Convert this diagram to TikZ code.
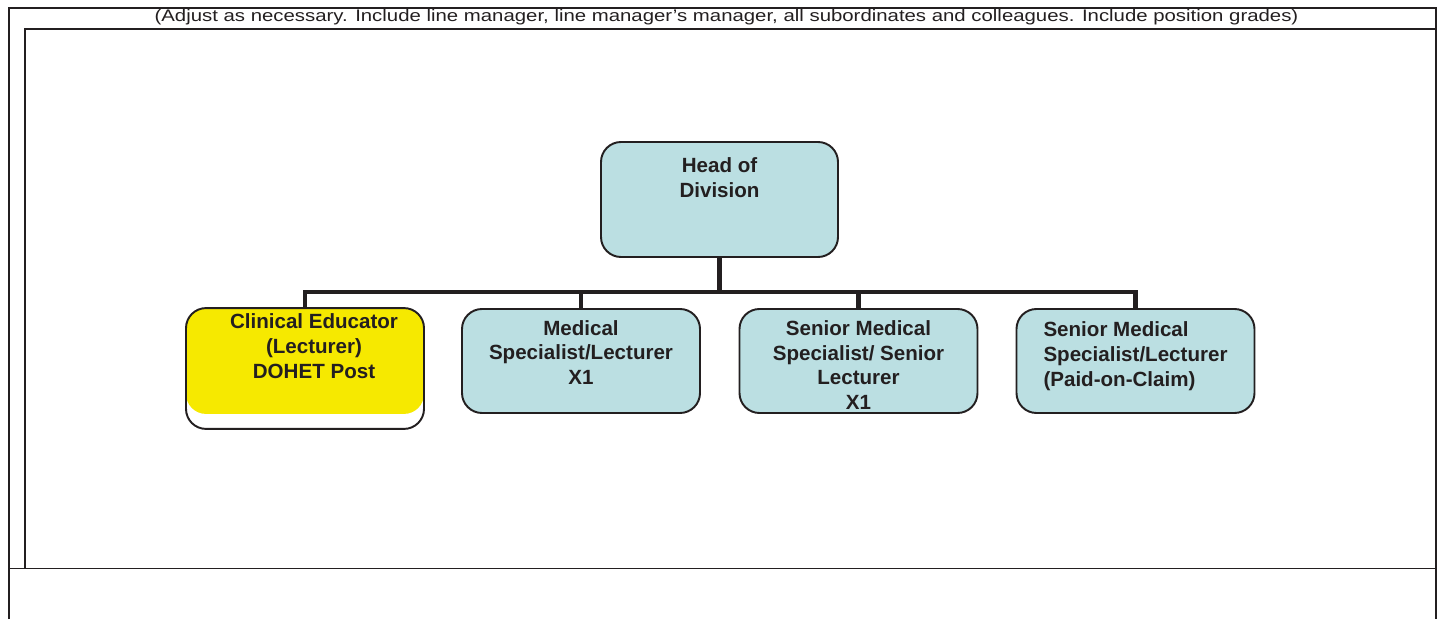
\documentclass[tikz,border=0pt]{standalone}
\usepackage{fontspec}
\setmainfont{Liberation Sans}
\usepackage{tikz}
\usetikzlibrary{calc,positioning}
\definecolor{inkgrey}{RGB}{35,31,32}
\definecolor{postblue}{RGB}{187,223,226}
\definecolor{postyellow}{RGB}{246,233,0}
\tikzset{%
	boxline/.style = {line width=1.1pt, draw=inkgrey},
	post/.style    = {draw=inkgrey, line width=1.1pt, rectangle, rounded corners=0.4cm, minimum width=4.76cm, minimum height=2.08cm, align=center, text=inkgrey, fill=postblue, font=\fontsize{11.7}{14}\selectfont\bfseries},
	link/.style    = {draw=inkgrey, line width=2.8pt},
}
\begin{document}
\begin{tikzpicture}
	\useasboundingbox (0,0) rectangle (28.9,12.38);
	\draw[boxline] (0.18,0) -- (0.18,12.22) -- (28.72,12.22) -- (28.72,0);
	\draw[boxline] (0.18,1.01) -- (28.72,1.01);
	\draw[boxline] (0.50,1.01) -- (0.50,11.80) -- (28.72,11.80);
	\node[text=inkgrey, font=\fontsize{9.5}{11}\selectfont, xscale=1.22, transform shape] (note) at (14.53,12.03) {(Adjust as necessary. Include line manager, line manager's manager, all subordinates and colleagues. Include position grades)};
	\node[post, minimum width=4.74cm, minimum height=2.30cm, text depth=0.88cm] (head) at (14.39,8.39) {Head of\\Division};
	\node[post, fill=white, minimum height=2.38cm, text depth=0.9cm, path picture={\fill[postyellow, rounded corners=0.4cm] (path picture bounding box.north west) rectangle ([yshift=0.3cm]path picture bounding box.south east);}] (educator) at (6.10,5.01) {\hspace*{0.36cm}Clinical Educator\\\hspace*{0.36cm}(Lecturer)\\\hspace*{0.36cm}DOHET Post};
	\node[post, text depth=0.34cm] (specialist) at (11.62,5.16) {Medical\\Specialist/Lecturer\\X1};
	\node[post, inner ysep=0.05cm, text height=1.94cm, text depth=0cm] (seniorspec) at (17.17,5.16) {Senior Medical\\Specialist/ Senior\\Lecturer\\X1};
	\node[post, align=left, text depth=0.28cm] (claim) at (22.71,5.16) {Senior Medical\\Specialist/Lecturer\\(Paid-on-Claim)};
	\draw[link] (head.south) -- ++(0,-0.68) coordinate (hub);
	\foreach \n in {educator,specialist,seniorspec,claim}
		\draw[link] (hub) -| (\n.north);
\end{tikzpicture}
\end{document}
